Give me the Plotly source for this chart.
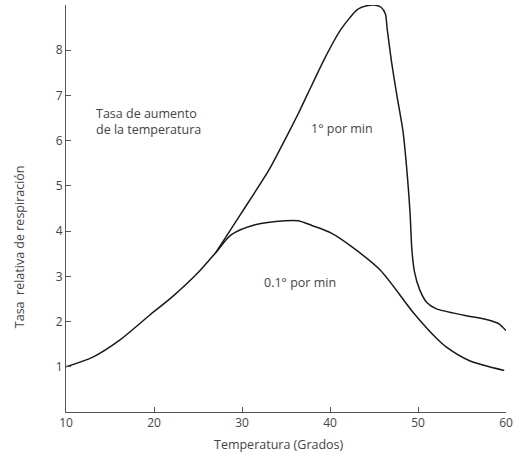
import plotly.graph_objects as go

# Data
slow_x = [10, 13.1, 16.1, 19.5, 22.1, 25.1, 27, 28.8, 31.5, 34.9, 36.4, 38, 40.1, 42.5, 45.7, 49.5, 52.1, 53.2, 55.8, 59.8]
slow_y = [1.0, 1.22, 1.59, 2.14, 2.55, 3.1, 3.52, 3.92, 4.14, 4.23, 4.23, 4.12, 3.96, 3.65, 3.14, 2.19, 1.63, 1.44, 1.14, 0.92]

fast_x = [27, 30, 33, 34.4, 36.4, 37.5, 39.4, 41.2, 43.1, 44.3, 45, 45.8, 46.3, 46.5, 47.0, 47.6, 48.3, 48.8, 49.1, 49.3, 49.6, 50.2, 51.0, 52.1, 55.2, 58.1, 59.2, 60]
fast_y = [3.52, 4.42, 5.33, 5.84, 6.6, 7.05, 7.82, 8.45, 8.9, 8.99, 9.0, 8.95, 8.8, 8.47, 7.73, 7.0, 6.2, 5.2, 4.4, 3.6, 3.1, 2.7, 2.42, 2.28, 2.14, 2.03, 1.95, 1.8]

x_ticks = [10, 20, 30, 40, 50, 60]
y_ticks = [1, 2, 3, 4, 5, 6, 7, 8]

FONT = "Open Sans"
TXT = "#444444"

fig = go.Figure()
fig.add_trace(go.Scatter(x=slow_x, y=slow_y, mode="lines",
                         line=dict(color="#1a1a1a", width=1.5, shape="spline", smoothing=0.8),
                         showlegend=False, hoverinfo="skip"))
fig.add_trace(go.Scatter(x=fast_x, y=fast_y, mode="lines",
                         line=dict(color="#1a1a1a", width=1.5, shape="spline", smoothing=0.6),
                         showlegend=False, hoverinfo="skip"))

axis_common = dict(ticks="inside", ticklen=5, tickcolor="#555", showline=True,
                   linecolor="#555", linewidth=1, showgrid=False, zeroline=False,
                   tickfont=dict(family=FONT, size=12, color=TXT))

fig.update_layout(
    width=518, height=453,
    margin=dict(l=66, r=8, t=5, b=41),
    paper_bgcolor="white", plot_bgcolor="white",
    font=dict(family=FONT, size=12, color=TXT),
    xaxis=dict(range=[10, 60], tickvals=x_ticks, **axis_common),
    yaxis=dict(range=[0, 9], tickvals=y_ticks, **axis_common),
    annotations=[
        dict(x=13.2, y=6.43, xref="x", yref="y", xanchor="left", yanchor="middle",
             text="Tasa de aumento<br>de la temperatura", showarrow=False, align="left",
             font=dict(size=12.5, color=TXT)),
        dict(x=41.4, y=6.26, xref="x", yref="y", text="1° por min", showarrow=False,
             font=dict(size=12.5, color=TXT)),
        dict(x=36.6, y=2.86, xref="x", yref="y", text="0.1° por min", showarrow=False,
             font=dict(size=12.5, color=TXT)),
        dict(x=0.485, y=0, xref="paper", yref="paper", yshift=-32, yanchor="middle",
             text="Temperatura (Grados)", showarrow=False, font=dict(size=12.5, color=TXT)),
        dict(x=0, y=0.405, xref="paper", yref="paper", xshift=-47, xanchor="center",
             yanchor="middle", textangle=-90, text="Tasa  relativa de respiración",
             showarrow=False, font=dict(size=12.5, color=TXT)),
    ],
)

fig.write_html("out.html", config={"displayModeBar": False},
               post_script="document.body.style.margin='0px';document.body.style.overflow='hidden';")
